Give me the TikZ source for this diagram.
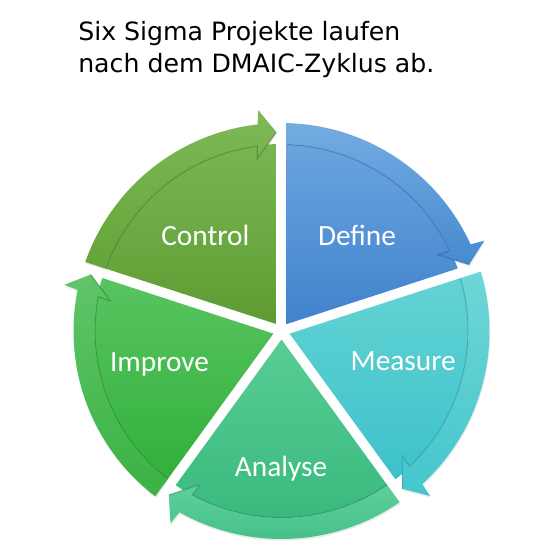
\documentclass[tikz,border=0pt]{standalone}
\usepackage{fontspec}
\newfontfamily\titlefont{DejaVu Sans}
\newfontfamily\segfont{Carlito}

% segment colours (top / bottom of each gradient, and the rim line)
\definecolor{defBandTop}{RGB}{116,172,225}
\definecolor{defBandBot}{RGB}{70,138,208}
\definecolor{defPieTop}{RGB}{106,164,222}
\definecolor{defPieBot}{RGB}{64,130,204}
\definecolor{defRim}{RGB}{45,100,170}
\definecolor{meaBandTop}{RGB}{112,214,214}
\definecolor{meaBandBot}{RGB}{68,198,205}
\definecolor{meaPieTop}{RGB}{100,211,211}
\definecolor{meaPieBot}{RGB}{60,194,202}
\definecolor{meaRim}{RGB}{35,150,160}
\definecolor{anaBandTop}{RGB}{94,207,156}
\definecolor{anaBandBot}{RGB}{66,190,132}
\definecolor{anaPieTop}{RGB}{88,205,150}
\definecolor{anaPieBot}{RGB}{56,184,124}
\definecolor{anaRim}{RGB}{35,140,95}
\definecolor{impBandTop}{RGB}{96,197,104}
\definecolor{impBandBot}{RGB}{58,178,68}
\definecolor{impPieTop}{RGB}{88,196,96}
\definecolor{impPieBot}{RGB}{50,176,60}
\definecolor{impRim}{RGB}{35,130,40}
\definecolor{conBandTop}{RGB}{126,186,88}
\definecolor{conBandBot}{RGB}{100,164,56}
\definecolor{conPieTop}{RGB}{120,182,82}
\definecolor{conPieBot}{RGB}{94,156,50}
\definecolor{conRim}{RGB}{70,118,35}

\begin{document}
\begin{tikzpicture}[x=0.75pt,y=0.75pt,
  rim/.style={line width=0.9, draw opacity=0.5},
  dropshade/.style={fill=black, fill opacity=0.08, shift={(0.6,-1.8)}},
  seglabel/.style={text=white, font=\segfont\fontsize{22}{26}\selectfont, inner sep=0pt, anchor=base},
  titleline/.style={font=\titlefont\fontsize{18.9}{24}\selectfont, inner sep=0pt, anchor=base west}]
\useasboundingbox (-281.5,-226) rectangle (275.5,331);

%Shadows under the arrow bands
\fill [dropshade] (88.62:208) arc[start angle=88.62, end angle=24.6, radius=208] -- (24:222) -- (19.5:199) -- (26:174) -- (25.45:187) arc[start angle=25.45, end angle=88.47, radius=187] -- cycle ;
\fill [dropshade] (16.62:208) arc[start angle=16.62, end angle=-47.4, radius=208] -- (-48:222) -- (-52.5:199) -- (-46:174) -- (-46.55:187) arc[start angle=-46.55, end angle=16.47, radius=187] -- cycle ;
\fill [dropshade] (-55.38:208) arc[start angle=-55.38, end angle=-119.4, radius=208] -- (-120:222) -- (-124.5:199) -- (-118:174) -- (-118.55:187) arc[start angle=-118.55, end angle=-55.53, radius=187] -- cycle ;
\fill [dropshade] (232.62:208) arc[start angle=232.62, end angle=168.6, radius=208] -- (168:222) -- (163.5:199) -- (170:174) -- (169.45:187) arc[start angle=169.45, end angle=232.47, radius=187] -- cycle ;
\fill [dropshade] (160.62:208) arc[start angle=160.62, end angle=96.6, radius=208] -- (96:222) -- (91.5:199) -- (98:174) -- (97.45:187) arc[start angle=97.45, end angle=160.47, radius=187] -- cycle ;

%Shape: Pie Define
\shade [top color=defPieTop, bottom color=defPieBot] (54:8.5) -- (88.47:187) arc[start angle=88.47, end angle=19.53, radius=187] -- cycle ;
%Shape: Circular Arrow Define
\shade [top color=defBandTop, bottom color=defBandBot] (88.62:208) arc[start angle=88.62, end angle=24.6, radius=208] -- (24:222) -- (19.5:199) -- (26:174) -- (25.45:187) arc[start angle=25.45, end angle=88.47, radius=187] -- cycle ;
\draw [rim, draw=defRim] (88.47:186.5) arc[start angle=88.47, end angle=25.45, radius=186.5] -- (26:174) -- (19.5:199) ;

%Shape: Pie Measure
\shade [top color=meaPieTop, bottom color=meaPieBot] (-18:8.5) -- (16.47:187) arc[start angle=16.47, end angle=-52.47, radius=187] -- cycle ;
%Shape: Circular Arrow Measure
\shade [top color=meaBandTop, bottom color=meaBandBot] (16.62:208) arc[start angle=16.62, end angle=-47.4, radius=208] -- (-48:222) -- (-52.5:199) -- (-46:174) -- (-46.55:187) arc[start angle=-46.55, end angle=16.47, radius=187] -- cycle ;
\draw [rim, draw=meaRim] (16.47:186.5) arc[start angle=16.47, end angle=-46.55, radius=186.5] -- (-46:174) -- (-52.5:199) ;

%Shape: Pie Analyse
\shade [top color=anaPieTop, bottom color=anaPieBot] (-90:8.5) -- (-55.53:187) arc[start angle=-55.53, end angle=-124.47, radius=187] -- cycle ;
%Shape: Circular Arrow Analyse
\shade [top color=anaBandTop, bottom color=anaBandBot] (-55.38:208) arc[start angle=-55.38, end angle=-119.4, radius=208] -- (-120:222) -- (-124.5:199) -- (-118:174) -- (-118.55:187) arc[start angle=-118.55, end angle=-55.53, radius=187] -- cycle ;
\draw [rim, draw=anaRim] (-55.53:186.5) arc[start angle=-55.53, end angle=-118.55, radius=186.5] -- (-118:174) -- (-124.5:199) ;

%Shape: Pie Improve
\shade [top color=impPieTop, bottom color=impPieBot] (198:8.5) -- (232.47:187) arc[start angle=232.47, end angle=163.53, radius=187] -- cycle ;
%Shape: Circular Arrow Improve
\shade [top color=impBandTop, bottom color=impBandBot] (232.62:208) arc[start angle=232.62, end angle=168.6, radius=208] -- (168:222) -- (163.5:199) -- (170:174) -- (169.45:187) arc[start angle=169.45, end angle=232.47, radius=187] -- cycle ;
\draw [rim, draw=impRim] (232.47:186.5) arc[start angle=232.47, end angle=169.45, radius=186.5] -- (170:174) -- (163.5:199) ;

%Shape: Pie Control
\shade [top color=conPieTop, bottom color=conPieBot] (126:8.5) -- (160.47:187) arc[start angle=160.47, end angle=91.53, radius=187] -- cycle ;
%Shape: Circular Arrow Control
\shade [top color=conBandTop, bottom color=conBandBot] (160.62:208) arc[start angle=160.62, end angle=96.6, radius=208] -- (96:222) -- (91.5:199) -- (98:174) -- (97.45:187) arc[start angle=97.45, end angle=160.47, radius=187] -- cycle ;
\draw [rim, draw=conRim] (160.47:186.5) arc[start angle=160.47, end angle=97.45, radius=186.5] -- (98:174) -- (91.5:199) ;

%Labels
\node [seglabel] (define) at (75.5,85.3) {Define};
\node [seglabel] (measure) at (121.7,-39.7) {Measure};
\node [seglabel] (analyse) at (-0.5,-145.7) {Analyse};
\node [seglabel] (improve) at (-122,-40.2) {Improve};
\node [seglabel] (control) at (-76.2,85.3) {Control};

%Title
\node [titleline] (titleA) at (-203.5,290.3) {Six Sigma Projekte laufen};
\node [titleline] (titleB) at (-203.5,258.3) {nach dem DMAIC-Zyklus ab.};

\end{tikzpicture}
\end{document}
